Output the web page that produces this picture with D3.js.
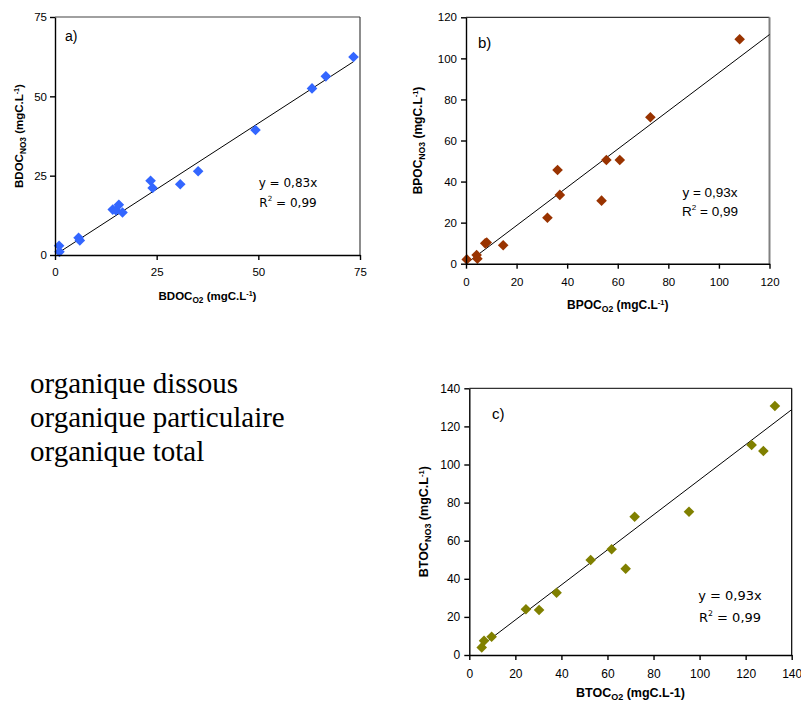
<!DOCTYPE html>
<html><head><meta charset="utf-8">
<script src="https://cdn.jsdelivr.net/npm/d3@7"></script>
<style>body{margin:0;background:#fff}svg{display:block}</style>
</head><body>
<svg id="c" width="801" height="702"></svg>
<script>
// Panel a) BDOC
const aX = [1.0, 1.1, 5.8, 6.1, 14.2, 15.0, 15.7, 16.6, 23.5, 24.0, 30.8, 35.2, 49.3, 63.2, 66.6, 73.4];
const aY = [2.9, 1.0, 5.4, 4.6, 14.3, 14.0, 15.8, 13.4, 23.4, 21.1, 22.3, 26.4, 39.4, 52.5, 56.3, 62.4];
// Panel b) BPOC
const bX = [0.3, 4.2, 4.5, 7.6, 8.2, 14.7, 32.2, 36.2, 37.1, 53.6, 55.5, 60.8, 72.9, 108.2];
const bY = [2.1, 4.2, 2.4, 9.9, 10.3, 9.0, 22.4, 45.6, 33.5, 30.7, 50.5, 50.5, 71.3, 109.3];
// Panel c) BTOC
const cX = [5.4, 6.4, 9.7, 24.6, 30.3, 37.9, 52.7, 61.8, 67.9, 71.8, 95.4, 122.6, 127.7, 132.7];
const cY = [4.0, 7.5, 9.6, 24.0, 23.6, 32.7, 49.9, 55.5, 45.3, 72.6, 75.2, 110.2, 107.1, 130.7];
const slopes = [0.83, 0.93, 0.92];
const eqLabels = ["y = 0,83x", "y = 0,93x", "y = 0,93x"];
const r2Labels = ["R² = 0,99", "R² = 0,99", "R² = 0,99"];
const aTicks = [0, 25, 50, 75];
const bTicks = [0, 20, 40, 60, 80, 100, 120];
const cTicks = [0, 20, 40, 60, 80, 100, 120, 140];
const textLines = ["organique dissous", "organique particulaire", "organique total"];

const svg = d3.select("#c");
const ARIAL = "'Liberation Sans', Arial, sans-serif";

function panel(o) {
  const x = d3.scaleLinear().domain([0, o.xmax]).range([o.l, o.r]);
  const y = d3.scaleLinear().domain([0, o.ymax]).range([o.b, o.t]);
  const g = svg.append("g");
  g.append("line").attr("x1", o.l).attr("x2", o.r).attr("y1", o.t).attr("y2", o.t)
    .attr("stroke", o.topCol).attr("stroke-width", o.topW);
  g.append("line").attr("x1", o.r).attr("x2", o.r).attr("y1", o.t).attr("y2", o.b)
    .attr("stroke", o.rightCol).attr("stroke-width", o.rightW);
  const lx0 = o.lineFrom, lx1 = o.lineTo;
  g.append("line").attr("x1", x(lx0)).attr("y1", y(o.slope * lx0))
    .attr("x2", x(lx1)).attr("y2", y(o.slope * lx1))
    .attr("stroke", "#000").attr("stroke-width", 1);
  g.selectAll("path.pt").data(o.xs.map((v, i) => [v, o.ys[i]])).enter().append("path")
    .attr("class", "pt")
    .attr("transform", d => `translate(${x(d[0])},${y(d[1])})`)
    .attr("d", "M0,-5.3L5.3,0L0,5.3L-5.3,0Z")
    .attr("fill", o.color);
  const xa = g.append("g").attr("transform", `translate(0,${o.b})`)
    .call(d3.axisBottom(x).tickValues(o.ticksX).tickSize(5).tickSizeOuter(0).tickPadding(o.xpad));
  const ya = g.append("g").attr("transform", `translate(${o.l},0)`)
    .call(d3.axisLeft(y).tickValues(o.ticksY).tickSize(5).tickSizeOuter(0).tickPadding(o.ypad));
  [xa, ya].forEach(a => {
    a.selectAll("path,line").attr("stroke", "#000").attr("stroke-width", 1.4);
    a.selectAll("text").attr("font-family", ARIAL).attr("font-size", o.tickFs).attr("fill", "#000");
  });
  g.append("text").attr("x", o.lab[0]).attr("y", o.lab[1]).text(o.label)
    .attr("font-family", ARIAL).attr("font-size", o.labFs);
  g.append("text").attr("x", o.eq[0]).attr("y", o.eq[1]).attr("text-anchor", "middle")
    .attr("font-family", o.eqFont).attr("font-size", o.eqFs).text(o.eqText);
  const r2 = g.append("text").attr("x", o.eq[0]).attr("y", o.eq[1] + o.eqGap).attr("text-anchor", "middle")
    .attr("font-family", o.eqFont).attr("font-size", o.eqFs);
  r2.append("tspan").text("R");
  r2.append("tspan").attr("dy", -6).attr("font-size", o.eqFs * 0.6).text("2");
  r2.append("tspan").attr("dy", 6).text(o.r2Text.replace("R²", ""));
  const fs = o.titleFs;
  const xt = g.append("text").attr("x", (o.l + o.r) / 2).attr("y", o.xtY).attr("text-anchor", "middle")
    .attr("font-family", ARIAL).attr("font-weight", "bold").attr("font-size", fs);
  xt.append("tspan").text(o.name);
  xt.append("tspan").attr("dy", 3).attr("font-size", fs * 0.72).text("O2");
  xt.append("tspan").attr("dy", -3).text(o.xUnitSup ? (o.gap + "(mgC.L") : (o.gap + "(mgC.L-1)"));
  if (o.xUnitSup) {
    xt.append("tspan").attr("dy", -4).attr("font-size", fs * 0.62).text("-1");
    xt.append("tspan").attr("dy", 4).text(")");
  }
  const yt = g.append("text").attr("transform", `translate(${o.ytX},${(o.t + o.b) / 2}) rotate(-90)`)
    .attr("text-anchor", "middle")
    .attr("font-family", ARIAL).attr("font-weight", "bold").attr("font-size", fs);
  yt.append("tspan").text(o.name);
  yt.append("tspan").attr("dy", 3).attr("font-size", fs * 0.72).text("NO3");
  yt.append("tspan").attr("dy", -3).text(" (mgC.L");
  yt.append("tspan").attr("dy", -4).attr("font-size", fs * 0.62).text("-1");
  yt.append("tspan").attr("dy", 4).text(")");
}

panel({name: "BDOC", l: 55, r: 360, t: 17, b: 255, xmax: 75, ymax: 75, xs: aX, ys: aY,
  slope: slopes[0], lineFrom: aX[0], lineTo: d3.max(aX), color: "#3366ff",
  ticksX: aTicks, ticksY: aTicks, xpad: 8, ypad: 3, tickFs: 11.5,
  topCol: "#808080", topW: 1.5, rightCol: "#404040", rightW: 1.2,
  lab: [65, 41], label: "a)", labFs: 14,
  eq: [288, 187], eqGap: 20, eqFont: "'DejaVu Sans', Verdana, sans-serif", eqFs: 12,
  eqText: eqLabels[0], r2Text: r2Labels[0], xtY: 300, ytX: 23, xUnitSup: true,
  titleFs: 11.5, gap: " "});

panel({name: "BPOC", l: 466, r: 769.5, t: 17.3, b: 263.7, xmax: 120, ymax: 120, xs: bX, ys: bY,
  slope: slopes[1], lineFrom: 1.5, lineTo: 120, color: "#993300",
  ticksX: bTicks, ticksY: bTicks, xpad: 9, ypad: 4, tickFs: 11.5,
  topCol: "#000", topW: 1, rightCol: "#808080", rightW: 2,
  lab: [478, 48], label: "b)", labFs: 15,
  eq: [710, 197], eqGap: 19, eqFont: ARIAL, eqFs: 13.5,
  eqText: eqLabels[1], r2Text: r2Labels[1], xtY: 309, ytX: 422, xUnitSup: true,
  titleFs: 12, gap: "  "});

panel({name: "BTOC", l: 469.3, r: 791.7, t: 388.3, b: 655, xmax: 140, ymax: 140, xs: cX, ys: cY,
  slope: slopes[2], lineFrom: cX[0], lineTo: 140, color: "#808000",
  ticksX: cTicks, ticksY: cTicks, xpad: 9.5, ypad: 4, tickFs: 12,
  topCol: "#000", topW: 1, rightCol: "#000", rightW: 1.2,
  lab: [492, 419], label: "c)", labFs: 15,
  eq: [730, 600], eqGap: 22, eqFont: "'DejaVu Sans', Verdana, sans-serif", eqFs: 13,
  eqText: eqLabels[2], r2Text: r2Labels[2], xtY: 697, ytX: 428, xUnitSup: false,
  titleFs: 12.5, gap: "  "});

svg.selectAll("text.lt").data(textLines).enter().append("text").attr("class", "lt")
  .attr("x", 30).attr("y", (d, i) => 393 + i * 34)
  .attr("font-family", "'Liberation Serif', 'Times New Roman', serif").attr("font-size", 29)
  .text(d => d);
</script>
</body></html>
